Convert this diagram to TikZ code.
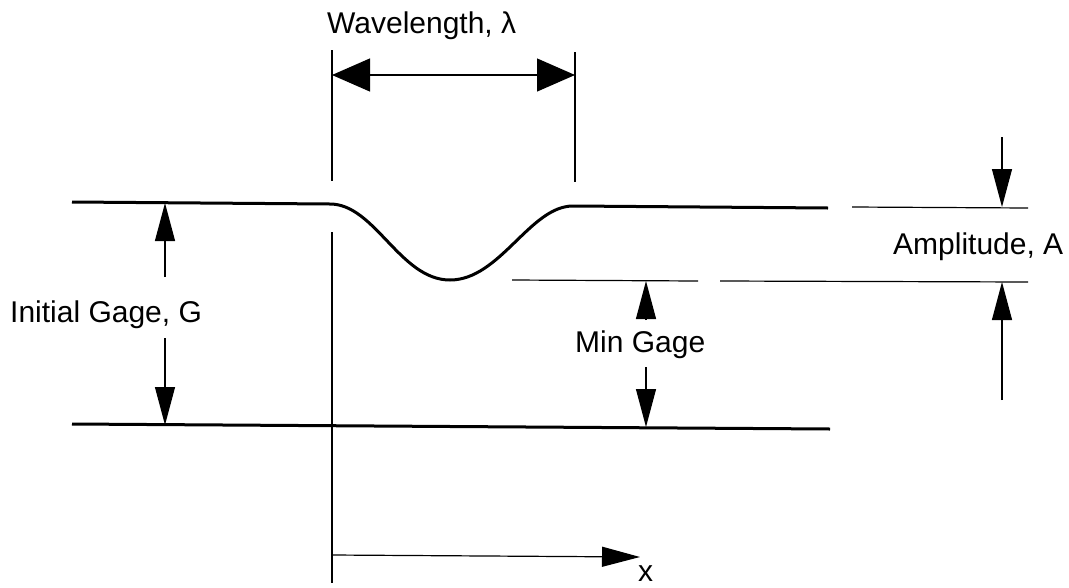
\documentclass[tikz,border=0pt]{standalone}
\usepackage{fontspec}
\setmainfont{Liberation Sans}
\usetikzlibrary{arrows.meta}
\begin{document}
\begin{tikzpicture}[x=1pt,y=-1pt,
  thickline/.style={line width=3pt},
  thinline/.style={line width=1.2pt},
  dimarrow/.style={line width=1.2pt,-{Triangle[length=38pt,width=20pt]}},
  widearrow/.style={line width=1.2pt,{Triangle[length=38pt,width=33pt]}-{Triangle[length=38pt,width=33pt]}},
  lbl/.style={font=\fontsize{30}{30}\selectfont,inner sep=0pt,anchor=base west}]
\useasboundingbox (0,0) rectangle (1069,587);
% coordinates
\coordinate (tl) at (72,202);
\coordinate (c0) at (330,204);
\coordinate (trough) at (450,280);
\coordinate (c1) at (573,206);
\coordinate (tr) at (828,208);
\coordinate (al) at (852,207);
\coordinate (ar) at (1028,208);
\coordinate (bl) at (72,424);
\coordinate (br) at (830,429);
\coordinate (m1l) at (512,280);
\coordinate (m1r) at (698,281);
\coordinate (m2l) at (720,281);
\coordinate (m2r) at (1028,282);
% main profile
\draw[thickline] (tl) -- (c0) .. controls (375,204) and (400,280) .. (trough)
  .. controls (500,280) and (530,206) .. (c1) -- (tr);
\draw[thickline] (bl) -- (br);
\draw[thinline] (al) -- (ar);
\draw[thinline] (m1l) -- (m1r);
\draw[thinline] (m2l) -- (m2r);
% extension lines
\coordinate (v1a) at (332,50); \coordinate (v1b) at (332,181);
\coordinate (v1c) at (332,232); \coordinate (v1d) at (332,583);
\coordinate (v2a) at (575,52); \coordinate (v2b) at (575,182);
\draw[thinline] (v1a) -- (v1b);
\draw[thinline] (v1c) -- (v1d);
\draw[thinline] (v2a) -- (v2b);
% wavelength
\coordinate (wl) at (332,75); \coordinate (wr) at (575,75);
\draw[widearrow] (wl) -- (wr);
\node[lbl] (wave) at (327,33) {Wavelength, λ};
% initial gage
\node[lbl] (gage) at (10,322) {Initial Gage, G};
\coordinate (g1) at (165,277); \coordinate (g1t) at (165,203);
\coordinate (g2) at (165,338); \coordinate (g2t) at (165,425);
\draw[dimarrow] (g1) -- (g1t);
\draw[dimarrow] (g2) -- (g2t);
% min gage
\node[lbl] (ming) at (575,352) {Min Gage};
\coordinate (n1) at (646,320); \coordinate (n1t) at (646,281);
\coordinate (n2) at (646,367); \coordinate (n2t) at (646,427);
\draw[dimarrow] (n1) -- (n1t);
\draw[dimarrow] (n2) -- (n2t);
% amplitude
\node[lbl] (amp) at (893,254) {Amplitude, A};
\coordinate (a1) at (1002,137); \coordinate (a1t) at (1002,207);
\coordinate (a2) at (1002,400); \coordinate (a2t) at (1002,282);
\draw[dimarrow] (a1) -- (a1t);
\draw[dimarrow] (a2) -- (a2t);
% x axis
\coordinate (x0) at (332,555); \coordinate (x1) at (640,557);
\draw[dimarrow] (x0) -- (x1);
\node[lbl] (xl) at (638,581) {x};
\end{tikzpicture}
\end{document}
